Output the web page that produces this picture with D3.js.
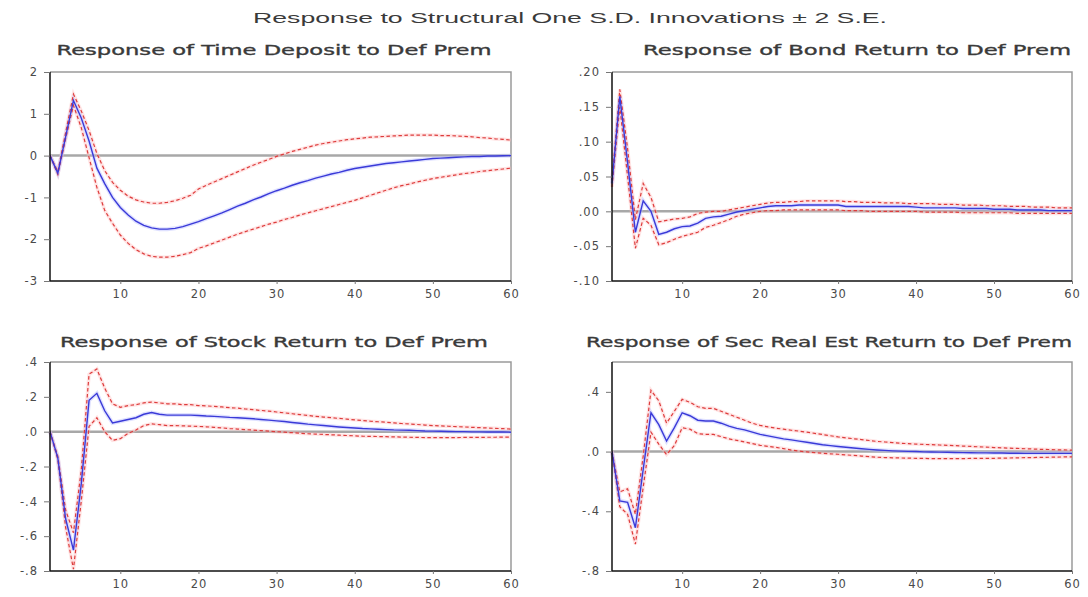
<!DOCTYPE html>
<html>
<head>
<meta charset="utf-8">
<script src="https://cdn.jsdelivr.net/npm/d3@7"></script>
<style>
  body { margin: 0; background: #ffffff; }
  svg { display: block; }
</style>
</head>
<body>
<svg id="chart" width="1088" height="597"></svg>
<script>
// Impulse responses to a one S.D. Def Prem shock, periods 1..60
const periods = d3.range(1, 61);
const xTicks = [10, 20, 30, 40, 50, 60];

// Time Deposit
const timeDepositResp = [0, -0.42, 0.45, 1.32, 0.9, 0.35, -0.3, -0.67, -1.0, -1.24,
  -1.42, -1.57, -1.67, -1.73, -1.76, -1.76, -1.74, -1.7, -1.64, -1.58,
  -1.51, -1.44, -1.37, -1.29, -1.21, -1.14, -1.06, -0.99, -0.91, -0.84,
  -0.78, -0.71, -0.65, -0.6, -0.54, -0.49, -0.44, -0.4, -0.35, -0.31,
  -0.28, -0.25, -0.22, -0.19, -0.17, -0.15, -0.13, -0.11, -0.09, -0.07,
  -0.06, -0.05, -0.04, -0.03, -0.02, -0.02, -0.01, -0.01, -0.005, 0];
const timeDepositUpper = [0, -0.38, 0.55, 1.47, 1.07, 0.6, 0.05, -0.36, -0.64, -0.83,
  -0.97, -1.06, -1.11, -1.14, -1.14, -1.12, -1.08, -1.02, -0.95, -0.8,
  -0.71, -0.63, -0.55, -0.47, -0.39, -0.31, -0.23, -0.16, -0.09, -0.02,
  0.04, 0.1, 0.15, 0.2, 0.25, 0.29, 0.32, 0.35, 0.38, 0.4,
  0.42, 0.44, 0.45, 0.46, 0.47, 0.48, 0.49, 0.49, 0.49, 0.49,
  0.48, 0.48, 0.47, 0.46, 0.45, 0.43, 0.42, 0.4, 0.39, 0.37];
const timeDepositLower = [0, -0.45, 0.4, 1.2, 0.67, -0.05, -0.76, -1.31, -1.62, -1.9,
  -2.1, -2.25, -2.35, -2.41, -2.43, -2.43, -2.41, -2.37, -2.32, -2.22,
  -2.16, -2.09, -2.02, -1.95, -1.88, -1.82, -1.76, -1.7, -1.64, -1.59,
  -1.53, -1.48, -1.42, -1.37, -1.32, -1.27, -1.22, -1.17, -1.12, -1.07,
  -1.01, -0.95, -0.89, -0.83, -0.77, -0.72, -0.68, -0.63, -0.59, -0.55,
  -0.52, -0.49, -0.46, -0.43, -0.41, -0.38, -0.36, -0.34, -0.32, -0.3];
const timeDepositTicks = [2, 1, 0, -1, -2, -3];
const timeDepositTickLabels = ["2", "1", "0", "-1", "-2", "-3"];

// Bond Return
const bondResp = [0.04, 0.165, 0.07, -0.03, 0.015, 0.0, -0.033, -0.03, -0.025, -0.022,
  -0.021, -0.017, -0.01, -0.008, -0.007, -0.004, -0.001, 0.001, 0.003, 0.005,
  0.007, 0.008, 0.008, 0.008, 0.009, 0.009, 0.009, 0.009, 0.009, 0.009,
  0.007, 0.007, 0.007, 0.007, 0.007, 0.007, 0.007, 0.007, 0.007, 0.006,
  0.005, 0.005, 0.005, 0.005, 0.005, 0.004, 0.004, 0.004, 0.004, 0.003,
  0.003, 0.003, 0.002, 0.002, 0.002, 0.002, 0.001, 0.001, 0.001, 0.001];
const bondUpper = [0.045, 0.175, 0.09, -0.012, 0.04, 0.02, -0.015, -0.013, -0.011, -0.01,
  -0.008, -0.003, -0.001, 0.0, 0.0, 0.002, 0.004, 0.006, 0.008, 0.01,
  0.012, 0.013, 0.013, 0.014, 0.014, 0.015, 0.015, 0.015, 0.015, 0.015,
  0.014, 0.014, 0.013, 0.013, 0.013, 0.012, 0.012, 0.012, 0.011, 0.011,
  0.011, 0.011, 0.01, 0.01, 0.01, 0.009, 0.009, 0.009, 0.008, 0.008,
  0.008, 0.007, 0.007, 0.007, 0.006, 0.006, 0.006, 0.005, 0.005, 0.005];
const bondLower = [0.035, 0.15, 0.05, -0.053, -0.01, -0.02, -0.048, -0.045, -0.04, -0.036,
  -0.033, -0.03, -0.023, -0.02, -0.016, -0.012, -0.007, -0.004, -0.002, 0.0,
  0.001, 0.001, 0.002, 0.002, 0.002, 0.002, 0.002, 0.002, 0.002, 0.002,
  0.001, 0.001, 0.001, 0.0, 0.0, 0.0, 0.0, 0.0, 0.0, 0.0,
  -0.001, -0.001, -0.001, -0.001, -0.001, -0.002, -0.002, -0.002, -0.002, -0.002,
  -0.002, -0.002, -0.003, -0.003, -0.003, -0.003, -0.003, -0.003, -0.003, -0.003];
const bondTicks = [0.2, 0.15, 0.1, 0.05, 0, -0.05, -0.1];
const bondTickLabels = [".20", ".15", ".10", ".05", ".00", "-.05", "-.10"];

// Stock Return
const stockResp = [0, -0.15, -0.5, -0.68, -0.3, 0.18, 0.22, 0.12, 0.05, 0.06,
  0.07, 0.08, 0.1, 0.11, 0.1, 0.095, 0.095, 0.095, 0.095, 0.093,
  0.09, 0.088, 0.085, 0.082, 0.08, 0.077, 0.074, 0.07, 0.066, 0.062,
  0.058, 0.053, 0.048, 0.043, 0.039, 0.035, 0.031, 0.027, 0.024, 0.021,
  0.018, 0.016, 0.014, 0.012, 0.01, 0.009, 0.008, 0.006, 0.004, 0.003,
  0.002, 0.001, 0, 0, -0.001, -0.001, -0.002, -0.002, -0.002, -0.003];
const stockUpper = [0, -0.14, -0.45, -0.58, -0.22, 0.33, 0.36, 0.25, 0.16, 0.14,
  0.15, 0.155, 0.165, 0.17, 0.165, 0.16, 0.16, 0.155, 0.155, 0.15,
  0.148, 0.145, 0.142, 0.138, 0.135, 0.13, 0.126, 0.122, 0.118, 0.113,
  0.108, 0.103, 0.098, 0.093, 0.088, 0.084, 0.08, 0.076, 0.072, 0.068,
  0.064, 0.06, 0.057, 0.054, 0.05, 0.047, 0.044, 0.041, 0.038, 0.035,
  0.033, 0.031, 0.029, 0.027, 0.025, 0.023, 0.021, 0.019, 0.017, 0.015];
const stockLower = [0, -0.16, -0.55, -0.79, -0.4, 0.03, 0.08, 0.0, -0.05, -0.04,
  -0.01, 0.01, 0.035, 0.045, 0.04, 0.035, 0.035, 0.033, 0.032, 0.03,
  0.028, 0.025, 0.022, 0.018, 0.015, 0.012, 0.009, 0.006, 0.003, 0.0,
  -0.003, -0.006, -0.009, -0.012, -0.014, -0.016, -0.018, -0.02, -0.022, -0.024,
  -0.026, -0.027, -0.028, -0.029, -0.03, -0.031, -0.032, -0.033, -0.034, -0.034,
  -0.034, -0.034, -0.034, -0.033, -0.033, -0.033, -0.032, -0.032, -0.031, -0.031];
const stockTicks = [0.4, 0.2, 0, -0.2, -0.4, -0.6, -0.8];
const stockTickLabels = [".4", ".2", ".0", "-.2", "-.4", "-.6", "-.8"];

// Securitised Real Estate Return
const realEstResp = [0, -0.33, -0.34, -0.51, -0.12, 0.26, 0.18, 0.07, 0.16, 0.26,
  0.24, 0.21, 0.205, 0.205, 0.19, 0.17, 0.155, 0.145, 0.13, 0.115,
  0.105, 0.095, 0.085, 0.078, 0.07, 0.062, 0.054, 0.046, 0.04, 0.034,
  0.029, 0.024, 0.019, 0.015, 0.011, 0.008, 0.005, 0.003, 0.001, 0.0,
  -0.002, -0.003, -0.004, -0.005, -0.006, -0.007, -0.008, -0.009, -0.009, -0.01,
  -0.01, -0.011, -0.011, -0.012, -0.012, -0.012, -0.012, -0.012, -0.012, -0.012];
const realEstUpper = [0, -0.27, -0.25, -0.42, -0.03, 0.41, 0.34, 0.19, 0.27, 0.35,
  0.33, 0.3, 0.29, 0.29, 0.27, 0.25, 0.23, 0.21, 0.19, 0.175,
  0.165, 0.157, 0.15, 0.143, 0.137, 0.13, 0.122, 0.114, 0.106, 0.098,
  0.092, 0.086, 0.08, 0.074, 0.068, 0.064, 0.06, 0.056, 0.053, 0.05,
  0.048, 0.046, 0.044, 0.042, 0.04, 0.037, 0.035, 0.032, 0.03, 0.027,
  0.025, 0.023, 0.021, 0.019, 0.017, 0.015, 0.014, 0.012, 0.011, 0.01];
const realEstLower = [0, -0.37, -0.42, -0.62, -0.24, 0.13, 0.05, -0.02, 0.04, 0.16,
  0.15, 0.12, 0.115, 0.115, 0.1, 0.085, 0.075, 0.065, 0.053, 0.042,
  0.035, 0.028, 0.02, 0.01, 0.003, -0.002, -0.007, -0.011, -0.015, -0.018,
  -0.022, -0.026, -0.03, -0.034, -0.038, -0.04, -0.042, -0.043, -0.044, -0.045,
  -0.046, -0.047, -0.047, -0.047, -0.047, -0.047, -0.046, -0.046, -0.045, -0.045,
  -0.044, -0.043, -0.042, -0.041, -0.04, -0.039, -0.038, -0.037, -0.036, -0.036];
const realEstTicks = [0.4, 0, -0.4, -0.8];
const realEstTickLabels = [".4", ".0", "-.4", "-.8"];

const mainTitle = "Response to Structural One S.D. Innovations \u00b1 2 S.E.";

// Panel layout and series binding
const panels = [
  { title: "Response of Time Deposit to Def Prem", resp: timeDepositResp, upper: timeDepositUpper, lower: timeDepositLower,
    domain: [-3, 2], ticks: timeDepositTicks, labels: timeDepositTickLabels,
    left: 50, right: 511, top: 72, bottom: 281, titleX: 274, titleY: 55, titleW: 435 },
  { title: "Response of Bond Return to Def Prem", resp: bondResp, upper: bondUpper, lower: bondLower,
    domain: [-0.1, 0.2], ticks: bondTicks, labels: bondTickLabels,
    left: 612, right: 1072, top: 72, bottom: 281, titleX: 857, titleY: 55, titleW: 428 },
  { title: "Response of Stock Return to Def Prem", resp: stockResp, upper: stockUpper, lower: stockLower,
    domain: [-0.8, 0.4], ticks: stockTicks, labels: stockTickLabels,
    left: 50, right: 511, top: 362, bottom: 571, titleX: 274, titleY: 347, titleW: 428 },
  { title: "Response of Sec Real Est Return to Def Prem", resp: realEstResp, upper: realEstUpper, lower: realEstLower,
    domain: [-0.8, 0.6], ticks: realEstTicks, labels: realEstTickLabels,
    left: 612, right: 1072, top: 362, bottom: 571, titleX: 829, titleY: 347, titleW: 486 }
];

const svg = d3.select("#chart");

svg.append("text")
  .attr("x", 570).attr("y", 23)
  .attr("text-anchor", "middle")
  .attr("textLength", 634).attr("lengthAdjust", "spacingAndGlyphs")
  .style("font-family", "'Liberation Sans', Arial, sans-serif")
  .style("font-size", "15px")
  .style("fill", "#3a3a3a")
  .text(mainTitle);

panels.forEach(p => {
  const x = d3.scaleLinear().domain([1, 60]).range([p.left, p.right]);
  const y = d3.scaleLinear().domain(p.domain).range([p.bottom, p.top]);
  const g = svg.append("g");

  // frame: grey top/right
  g.append("path")
    .attr("d", `M${p.left},${p.top}H${p.right}V${p.bottom}`)
    .attr("fill", "none").attr("stroke", "#9a9a9a").attr("stroke-width", 1.5);

  // zero reference line
  g.append("line")
    .attr("x1", p.left).attr("x2", p.right)
    .attr("y1", y(0)).attr("y2", y(0))
    .attr("stroke", "#a8a8a8").attr("stroke-width", 2.5);

  const line = d3.line().x((d, i) => x(periods[i])).y(d => y(d));

  // soft halos under the lines
  [p.upper, p.lower].forEach(s => {
    g.append("path").attr("d", line(s)).attr("fill", "none")
      .attr("stroke", "#ffbcbc").attr("stroke-width", 3.5).attr("stroke-opacity", 0.4);
  });
  g.append("path").attr("d", line(p.resp)).attr("fill", "none")
    .attr("stroke", "#b8bcff").attr("stroke-width", 4).attr("stroke-opacity", 0.45);

  // ±2 S.E. bands
  [p.upper, p.lower].forEach(s => {
    g.append("path").attr("d", line(s)).attr("fill", "none")
      .attr("stroke", "#dd3c3c").attr("stroke-width", 1.2)
      .attr("stroke-dasharray", "3.5,2.5");
  });
  // response
  g.append("path").attr("d", line(p.resp)).attr("fill", "none")
    .attr("stroke", "#3a3ad8").attr("stroke-width", 1.4);

  // axes
  const yAxis = d3.axisLeft(y).tickValues(p.ticks)
    .tickFormat((d, i) => p.labels[i]).tickSize(6).tickPadding(6);
  const ya = g.append("g").attr("transform", `translate(${p.left},0)`).call(yAxis);

  const xAxis = d3.axisBottom(x).tickValues(xTicks).tickSize(3).tickPadding(6);
  const xa = g.append("g").attr("transform", `translate(0,${p.bottom})`).call(xAxis);

  [ya, xa].forEach(a => {
    a.select(".domain").attr("stroke", "#111").attr("stroke-width", 1.5);
    a.selectAll(".tick line").attr("stroke", "#777");
    a.selectAll(".tick text")
      .style("font-family", "'DejaVu Sans', Verdana, sans-serif")
      .style("font-size", "11.5px")
      .style("letter-spacing", "1px")
      .style("fill", "#4a4a4a");
  });
  xa.select(".domain").attr("d", `M${p.left},0H${p.right}`);
  ya.select(".domain").attr("d", `M0,${p.top}V${p.bottom}`);

  // panel title
  g.append("text")
    .attr("x", p.titleX).attr("y", p.titleY)
    .attr("text-anchor", "middle")
    .attr("textLength", p.titleW).attr("lengthAdjust", "spacingAndGlyphs")
    .style("font-family", "'DejaVu Sans', Verdana, sans-serif")
    .style("font-size", "13.5px")
    .style("font-weight", "normal")
    .style("fill", "#3a3a3a")
    .style("stroke", "#3a3a3a")
    .style("stroke-width", "0.35px")
    .text(p.title);
});
</script>
</body>
</html>
